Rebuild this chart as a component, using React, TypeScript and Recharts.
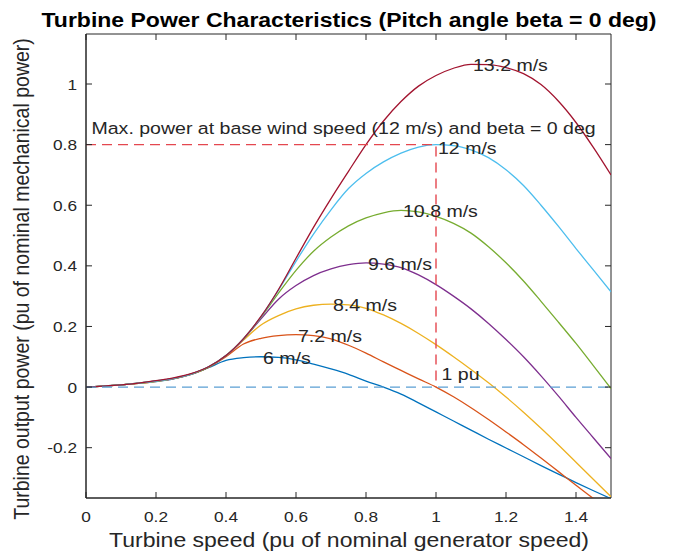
import React from 'react';
import { LineChart, Line, XAxis, YAxis, ReferenceDot, ReferenceArea } from 'recharts';

// turbine speed grid (pu of nominal generator speed)
const speed = [0, 0.05, 0.1, 0.15, 0.2, 0.25, 0.3, 0.35, 0.4, 0.45, 0.5, 0.55, 0.6, 0.65, 0.7, 0.75, 0.8, 0.85, 0.9, 0.95, 1, 1.05, 1.1, 1.15, 1.2, 1.25, 1.3, 1.35, 1.4, 1.45, 1.5];

// turbine output power (pu) for each wind speed
const p6 = [0, 0.003, 0.007, 0.012, 0.018, 0.027, 0.042, 0.064, 0.088, 0.097, 0.1, 0.098, 0.09, 0.076, 0.06, 0.042, 0.02, 0, -0.023, -0.052, -0.082, -0.112, -0.142, -0.172, -0.201, -0.23, -0.259, -0.287, -0.315, -0.342, -0.368];
const p72 = [0, 0.003, 0.007, 0.012, 0.019, 0.028, 0.042, 0.065, 0.1, 0.142, 0.161, 0.17, 0.173, 0.17, 0.159, 0.138, 0.112, 0.083, 0.055, 0.027, 0, -0.032, -0.068, -0.107, -0.148, -0.19, -0.234, -0.279, -0.324, -0.368, -0.412];
const p84 = [0, 0.003, 0.007, 0.012, 0.019, 0.028, 0.043, 0.066, 0.103, 0.155, 0.205, 0.236, 0.258, 0.27, 0.274, 0.271, 0.26, 0.238, 0.21, 0.177, 0.14, 0.1, 0.058, 0.014, -0.033, -0.083, -0.136, -0.191, -0.248, -0.305, -0.362];
const p96 = [0, 0.003, 0.007, 0.013, 0.02, 0.028, 0.043, 0.066, 0.104, 0.158, 0.225, 0.29, 0.335, 0.368, 0.39, 0.404, 0.41, 0.406, 0.394, 0.37, 0.338, 0.3, 0.258, 0.21, 0.157, 0.1, 0.037, -0.03, -0.1, -0.168, -0.236];
const p108 = [0, 0.003, 0.007, 0.013, 0.02, 0.029, 0.043, 0.066, 0.104, 0.159, 0.23, 0.31, 0.385, 0.448, 0.495, 0.532, 0.558, 0.575, 0.583, 0.578, 0.563, 0.54, 0.508, 0.463, 0.41, 0.35, 0.283, 0.214, 0.144, 0.07, -0.005];
const p12 = [0, 0.003, 0.007, 0.013, 0.02, 0.029, 0.043, 0.067, 0.104, 0.16, 0.232, 0.32, 0.415, 0.505, 0.585, 0.655, 0.705, 0.743, 0.772, 0.792, 0.8, 0.797, 0.783, 0.757, 0.717, 0.665, 0.6, 0.53, 0.457, 0.386, 0.314];
const p132 = [0, 0.003, 0.007, 0.013, 0.021, 0.03, 0.044, 0.067, 0.104, 0.16, 0.233, 0.322, 0.425, 0.527, 0.622, 0.712, 0.8, 0.878, 0.942, 0.993, 1.028, 1.052, 1.065, 1.064, 1.054, 1.034, 0.998, 0.943, 0.873, 0.79, 0.7];

const windLabels = ['6 m/s', '7.2 m/s', '8.4 m/s', '9.6 m/s', '10.8 m/s', '12 m/s', '13.2 m/s'];

// dashed guides: base power at 1 pu speed, and the zero-power line
const baseGuideSpeed = [0, 1, 1];
const baseGuidePower = [0.8, 0.8, 0];
const zeroGuideSpeed = [0, 1.5];
const zeroGuidePower = [0, 0];

const xTicks = [0, 0.2, 0.4, 0.6, 0.8, 1, 1.2, 1.4];
const yTicks = [-0.2, 0, 0.2, 0.4, 0.6, 0.8, 1];
const xDomain = [0, 1.5];
const yDomain = [-0.366, 1.165];

const W = 673;
const H = 552;
const PLOT = { left: 86, top: 34, right: 611, bottom: 498 };
const STRETCH = 1.15;
const FONT = '"Liberation Sans", Arial, Helvetica, sans-serif';
const INK = '#262626';

const COLORS = ['#0072BD', '#D95319', '#EDB120', '#7E2F8E', '#77AC30', '#4DBEEE', '#A2142F'];
const seriesValues = [p6, p72, p84, p96, p108, p12, p132];

const rows = speed.map((s, i) => {
  const row: Record<string, number> = { s };
  seriesValues.forEach((vals, k) => { row['p' + k] = vals[i]; });
  return row;
});
const baseGuide = baseGuideSpeed.map((s, i) => ({ s, g: baseGuidePower[i] }));
const zeroGuide = zeroGuideSpeed.map((s, i) => ({ s, g: zeroGuidePower[i] }));

// each speed label sits at the maximum of its curve
const peaks = seriesValues.map((vals) => {
  let best = 0;
  vals.forEach((v, i) => { if (v > vals[best]) best = i; });
  return { x: speed[best], y: vals[best] };
});

function StretchText({ x, y, anchor = 'start', size, weight, children }: any) {
  return (
    <text
      transform={`translate(${x} ${y}) scale(${STRETCH} 1)`}
      textAnchor={anchor}
      dominantBaseline="central"
      fontFamily={FONT}
      fontSize={size}
      fontWeight={weight}
      fill={INK}
    >
      {children}
    </text>
  );
}

const XTick = ({ x, payload }: any) => (
  <g>
    <line x1={x} x2={x} y1={PLOT.bottom} y2={PLOT.bottom - 6} stroke={INK} />
    <line x1={x} x2={x} y1={PLOT.top} y2={PLOT.top + 6} stroke={INK} />
    <StretchText x={x} y={PLOT.bottom + 18} anchor="middle" size={15}>{String(payload.value)}</StretchText>
  </g>
);

const YTick = ({ y, payload }: any) => (
  <g>
    <line x1={PLOT.left} x2={PLOT.left + 6} y1={y} y2={y} stroke={INK} />
    <line x1={PLOT.right} x2={PLOT.right - 6} y1={y} y2={y} stroke={INK} />
    <StretchText x={PLOT.left - 9} y={y} anchor="end" size={15}>{String(payload.value)}</StretchText>
  </g>
);

const Note = ({ viewBox, text, dy = 1 }: any) => (
  <StretchText x={viewBox.x + 2} y={viewBox.y + dy} size={17}>{text}</StretchText>
);

const overlayText: React.CSSProperties = {
  position: 'absolute',
  whiteSpace: 'nowrap',
  fontFamily: FONT,
  color: INK,
  lineHeight: 1,
};

export default function App() {
  return (
    <div style={{ position: 'absolute', left: 0, top: 0, width: W, height: H, background: '#fff' }}>
      <LineChart
        width={W}
        height={H}
        data={rows}
        margin={{ top: PLOT.top, right: W - PLOT.right, bottom: 24, left: PLOT.left - 60 }}
      >
        <XAxis
          type="number"
          dataKey="s"
          domain={xDomain}
          ticks={xTicks}
          interval={0}
          allowDataOverflow
          height={30}
          tickLine={false}
          tick={<XTick />}
          axisLine={{ stroke: INK }}
        />
        <YAxis
          type="number"
          domain={yDomain}
          ticks={yTicks}
          interval={0}
          allowDataOverflow
          width={60}
          tickLine={false}
          tick={<YTick />}
          axisLine={{ stroke: INK }}
        />
        <ReferenceArea x1={xDomain[0]} x2={xDomain[1]} y1={yDomain[0]} y2={yDomain[1]} fill="none" stroke={INK} strokeWidth={1} />
        {seriesValues.map((_, k) => (
          <Line
            key={k}
            type="monotone"
            dataKey={'p' + k}
            stroke={COLORS[k]}
            strokeWidth={1.3}
            dot={false}
            activeDot={false}
            isAnimationActive={false}
          />
        ))}
        <Line data={zeroGuide} dataKey="g" type="linear" stroke="#5b9fd3" strokeWidth={1.4} strokeDasharray="10 6" dot={false} activeDot={false} isAnimationActive={false} />
        <Line data={baseGuide} dataKey="g" type="linear" stroke="#e4474f" strokeWidth={1.4} strokeDasharray="10 6" dot={false} activeDot={false} isAnimationActive={false} />
        {peaks.map((p, k) => (
          <ReferenceDot key={k} x={p.x} y={p.y} r={0} fill="none" stroke="none" label={<Note text={windLabels[k]} dy={k === 5 ? 3 : 1} />} />
        ))}
        <ReferenceDot x={0.01} y={0.845} r={0} fill="none" stroke="none" label={<Note text="Max. power at base wind speed (12 m/s) and beta = 0 deg" dy={-3} />} />
        <ReferenceDot x={1.01} y={0.045} r={0} fill="none" stroke="none" label={<Note text="1 pu" />} />
      </LineChart>

      <div style={{ ...overlayText, left: 349, top: 20, fontSize: 20, fontWeight: 'bold', color: '#000', transform: `translate(-50%, -50%) scaleX(${STRETCH})` }}>
        Turbine Power Characteristics (Pitch angle beta = 0 deg)
      </div>
      <div style={{ ...overlayText, left: 349, top: 540, fontSize: 20, transform: `translate(-50%, -50%) scaleX(${STRETCH})` }}>
        Turbine speed (pu of nominal generator speed)
      </div>
      <div style={{ ...overlayText, left: 22, top: 279, fontSize: 19.5, transform: `translate(-50%, -50%) rotate(-90deg) scaleY(${STRETCH})` }}>
        Turbine output power (pu of nominal mechanical power)
      </div>
    </div>
  );
}
